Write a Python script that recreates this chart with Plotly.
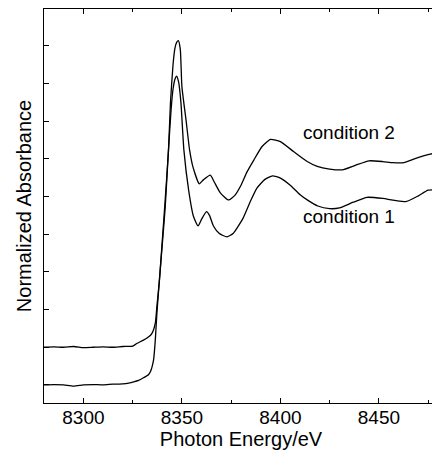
import plotly.graph_objects as go

# Condition 1 (lower curve)
energy_c1 = [8280, 8285, 8290, 8295, 8300, 8305, 8310, 8315, 8320, 8323, 8325.5, 8328, 8330.5, 8333,
             8334, 8335.6, 8336.5, 8337.3, 8338.6, 8340, 8341.5, 8343.2, 8344.5, 8345.5, 8346.5, 8347.3,
             8348.3, 8349.5, 8351, 8353.4, 8355.9, 8358.2, 8360, 8362.5, 8364, 8366, 8369, 8372.8, 8376,
             8381, 8385, 8388, 8392, 8396, 8400, 8405, 8410, 8414, 8419, 8425, 8430, 8437, 8444, 8452,
             8458, 8464, 8470, 8475, 8480]
abs_c1 = [0.0, 0.01, 0.0, -0.03, 0.0, 0.01, 0.0, 0.02, 0.03, 0.05, 0.08, 0.12, 0.19, 0.27,
          0.35, 0.66, 1.19, 1.9, 2.79, 3.7, 4.7, 6.24, 7.3, 7.85, 8.12, 8.2,
          8.05, 7.5, 6.24, 5.18, 4.47, 4.22, 4.4, 4.6, 4.5, 4.22, 4.02, 3.93, 4.02,
          4.42, 4.9, 5.22, 5.45, 5.55, 5.49, 5.3, 5.05, 4.9, 4.75, 4.68, 4.7, 4.85, 4.98, 4.95,
          4.9, 4.87, 5.02, 5.17, 5.18]

# Condition 2 (upper curve)
energy_c2 = [8280, 8285, 8290, 8295, 8300, 8305, 8310, 8315, 8320, 8325, 8327.1, 8330.5, 8333,
             8334.8, 8336.5, 8337.3, 8338.6, 8340, 8341.5, 8343.2, 8344.2, 8345.5, 8346.5, 8347.4, 8348.2,
             8349.2, 8350, 8352.1, 8353.9, 8355.6, 8358.8, 8361, 8364.4, 8366.5, 8369.5, 8373.7, 8377,
             8380, 8383, 8386.5, 8390.7, 8395, 8400, 8406.8, 8413.6, 8418.7, 8425, 8431.4, 8438, 8445,
             8452, 8457, 8462.7, 8468, 8475.5, 8480]
abs_c2 = [1.0, 1.01, 1.0, 1.02, 0.99, 1.0, 1.01, 1.0, 1.02, 1.03, 1.1, 1.19, 1.27,
          1.37, 1.64, 2.08, 2.79, 3.8, 4.9, 6.24, 7.5, 8.5, 8.95, 9.1, 9.14,
          8.9, 7.92, 7.03, 6.24, 5.79, 5.34, 5.45, 5.57, 5.38, 5.1, 4.91, 5.04,
          5.3, 5.65, 5.97, 6.33, 6.52, 6.46, 6.19, 5.93, 5.8, 5.73, 5.71, 5.83, 5.95,
          5.93, 5.9, 5.9, 6.0, 6.12, 6.17]

labels = ["condition 2", "condition 1"]
label_x = [8434.6, 8434.6]
label_y = [6.70, 4.47]

x_tickvals = [8300, 8350, 8400, 8450]

FONT = "Liberation Sans, Arial, sans-serif"

fig = go.Figure()
fig.add_trace(go.Scatter(x=energy_c1, y=abs_c1, mode="lines",
                         line=dict(color="black", width=1.3, shape="spline", smoothing=0.5),
                         showlegend=False, hoverinfo="skip"))
fig.add_trace(go.Scatter(x=energy_c2, y=abs_c2, mode="lines",
                         line=dict(color="black", width=1.3, shape="spline", smoothing=0.5),
                         showlegend=False, hoverinfo="skip"))

for t, xx, yy in zip(labels, label_x, label_y):
    fig.add_annotation(x=xx, y=yy, text=t, showarrow=False,
                       font=dict(family=FONT, size=19, color="black"),
                       xanchor="center", yanchor="middle")

# The page body has an 8px default margin, so the figure is sized/margined to compensate
fig.update_layout(
    width=432, height=442,
    margin=dict(l=36, r=2, t=1, b=47, pad=0),
    paper_bgcolor="white", plot_bgcolor="white",
    font=dict(family=FONT, color="black"),
)
fig.update_xaxes(
    range=[8280, 8480], tickvals=x_tickvals, ticktext=[str(v) for v in x_tickvals],
    ticks="inside", ticklen=5, tickwidth=1, tickcolor="black",
    minor=dict(ticks="inside", dtick=25, tick0=8275, ticklen=3, tickcolor="black", showgrid=False),
    showline=True, linecolor="black", linewidth=1.2, mirror="ticks",
    showgrid=False, zeroline=False, automargin=False,
    ticklabelstandoff=-3,
    tickfont=dict(family=FONT, size=19, color="black"),
    title=dict(text="Photon Energy/eV", font=dict(family=FONT, size=20, color="black"), standoff=2),
)
fig.update_yaxes(
    range=[-0.48, 9.98], dtick=1, tick0=0, showticklabels=False,
    ticks="inside", ticklen=5, tickwidth=1, tickcolor="black",
    showline=True, linecolor="black", linewidth=1.2, mirror="ticks",
    showgrid=False, zeroline=False, automargin=False,
    title=dict(text="Normalized Absorbance", font=dict(family=FONT, size=20, color="black"), standoff=5),
)

fig.write_html("out.html")
